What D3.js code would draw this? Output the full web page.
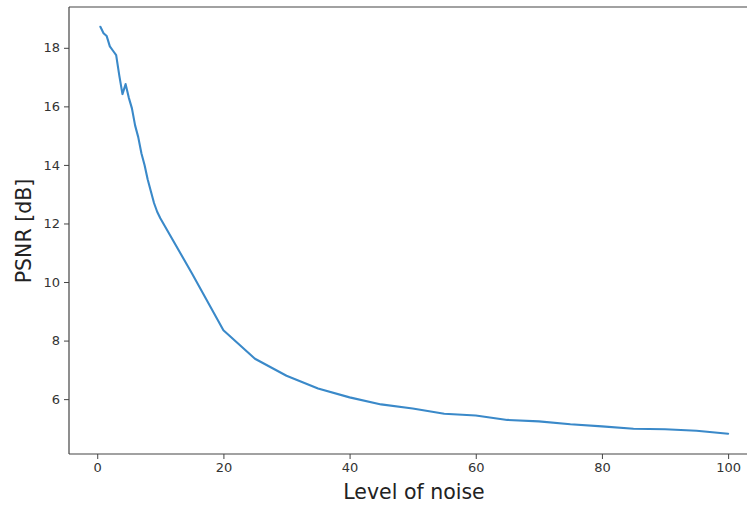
<!DOCTYPE html>
<html><head><meta charset="utf-8">
<script src="https://cdn.jsdelivr.net/npm/d3@7"></script>
<style>body{margin:0;background:#fff}svg{display:block}</style>
</head><body>
<svg id="c" width="747" height="505"></svg>
<script>
const noiseLevels = [0.5,1,1.5,2,2.5,3,3.5,4,4.5,5,5.5,6,6.5,7,7.5,8,8.5,9,9.5,10,15,20,25,30,35,40,45,50,55,60,65,70,75,80,85,90,95,100];
const psnr = [18.72,18.50,18.40,18.05,17.90,17.75,17.05,16.42,16.76,16.30,15.93,15.35,14.95,14.40,14.00,13.50,13.10,12.70,12.40,12.18,10.30,8.35,7.38,6.80,6.36,6.06,5.82,5.68,5.50,5.44,5.29,5.24,5.14,5.07,4.99,4.97,4.92,4.82];
const xTicks = [0,20,40,60,80,100];
const yTicks = [6,8,10,12,14,16,18];

const svg = d3.select("#c");
const L = 69, R = 759.5, T = 7, B = 454;
const x = d3.scaleLinear().domain([-4.475,104.975]).range([L,R]);
const y = d3.scaleLinear().domain([4.126,19.394]).range([B,T]);

const font = "DejaVu Sans, sans-serif";
const spine = "#444";

const gx = svg.append("g").attr("transform",`translate(0,${B})`)
  .call(d3.axisBottom(x).tickValues(xTicks).tickSize(5).tickPadding(4).tickFormat(d3.format("d")));
gx.select(".domain").remove();
gx.selectAll(".tick line").attr("stroke",spine).attr("stroke-width",1);
gx.selectAll(".tick text").attr("fill","#333").style("font-family",font).style("font-size","13px");

const gy = svg.append("g").attr("transform",`translate(${L},0)`)
  .call(d3.axisLeft(y).tickValues(yTicks).tickSize(5).tickPadding(4).tickFormat(d3.format("d")));
gy.select(".domain").remove();
gy.selectAll(".tick line").attr("stroke",spine).attr("stroke-width",1);
gy.selectAll(".tick text").attr("fill","#333").style("font-family",font).style("font-size","13px");

svg.append("line").attr("x1",L).attr("x2",L).attr("y1",T).attr("y2",B).attr("stroke",spine).attr("stroke-width",1.2);
svg.append("line").attr("x1",L).attr("x2",R).attr("y1",B).attr("y2",B).attr("stroke",spine).attr("stroke-width",1.2);
svg.append("line").attr("x1",L).attr("x2",R).attr("y1",T).attr("y2",T).attr("stroke",spine).attr("stroke-width",1.2);

const data = noiseLevels.map((d,i)=>[d,psnr[i]]);
svg.append("path").datum(data)
  .attr("fill","none").attr("stroke","#3a89c9").attr("stroke-width",2.1)
  .attr("stroke-linejoin","round").attr("stroke-linecap","round")
  .attr("d", d3.line().x(d=>x(d[0])).y(d=>y(d[1])));

svg.append("text").attr("x",414).attr("y",499).attr("text-anchor","middle")
  .style("font-family",font).style("font-size","20.5px").attr("fill","#222").text("Level of noise");
svg.append("text").attr("transform","translate(31,231) rotate(-90)").attr("text-anchor","middle")
  .style("font-family",font).style("font-size","20.5px").attr("fill","#222").text("PSNR [dB]");
</script>
</body></html>
